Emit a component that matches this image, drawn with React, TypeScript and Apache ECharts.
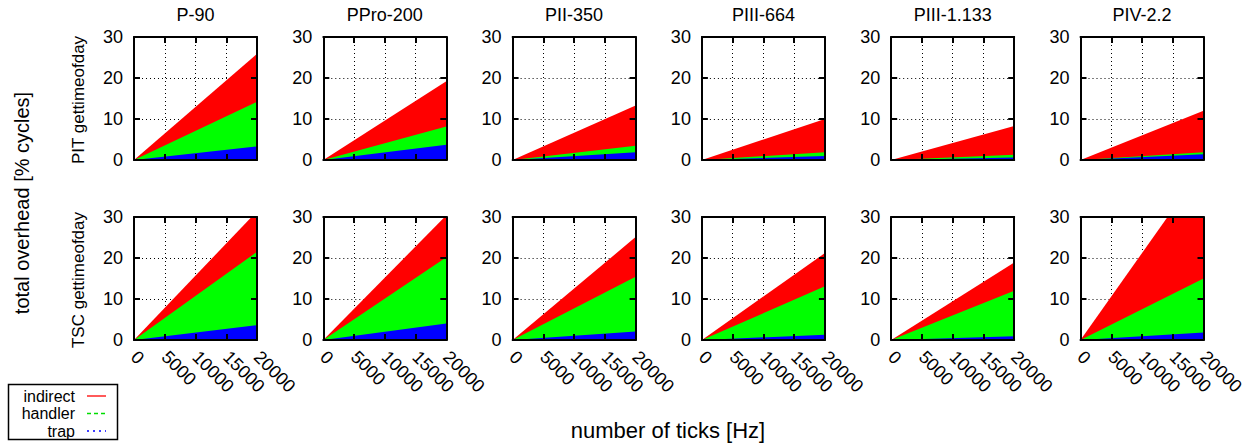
import React, { useEffect, useRef } from "react";
import * as echarts from "echarts";

const titles = ["P-90", "PPro-200", "PII-350", "PIII-664", "PIII-1.133", "PIV-2.2"];
const rowLabels = ["PIT gettimeofday", "TSC gettimeofday"];
const tickRateHz = [0, 20000];
const xTickLabels = [0, 5000, 10000, 15000, 20000];
const yTickLabels = [0, 10, 20, 30];

// overhead [% cycles] at 0 Hz and at 20000 Hz
const pitTrap = [[0, 3.3], [0, 3.7], [0, 1.9], [0, 1.0], [0, 0.6], [0, 1.4]];
const pitHandler = [[0, 10.9], [0, 4.5], [0, 1.6], [0, 0.9], [0, 0.7], [0, 0.5]];
const pitIndirect = [[0, 11.7], [0, 11.0], [0, 9.8], [0, 8.1], [0, 7.0], [0, 10.1]];
const tscTrap = [[0, 3.6], [0, 4.0], [0, 2.1], [0, 1.3], [0, 0.9], [0, 1.8]];
const tscHandler = [[0, 17.9], [0, 16.2], [0, 13.3], [0, 11.8], [0, 11.1], [0, 13.2]];
const tscIndirect = [[0, 9.9], [0, 10.2], [0, 9.7], [0, 8.1], [0, 6.9], [0, 27.4]];

const FONT = "'Liberation Sans', Arial, Helvetica, sans-serif";

export default function App() {
  const ref = useRef<HTMLDivElement>(null);
  useEffect(() => {
    document.body.style.margin = "0";
    const chart = echarts.init(ref.current!, null, { renderer: "svg" });
    const grids: any[] = [];
    const xAxes: any[] = [];
    const yAxes: any[] = [];
    const series: any[] = [];
    const graphics: any[] = [];
    const rows = [
      { trap: pitTrap, handler: pitHandler, indirect: pitIndirect, top: 37 },
      { trap: tscTrap, handler: tscHandler, indirect: tscIndirect, top: 217 },
    ];
    const W = 123;
    const H = 123;
    rows.forEach((row, r) => {
      titles.forEach((t, c) => {
        const gi = grids.length;
        const left = 134 + c * 189.3;
        grids.push({ left, top: row.top, width: W, height: H });
        const xBase = { gridIndex: gi, type: "value", min: 0, max: 20000, interval: 5000 };
        const yBase = { gridIndex: gi, type: "value", min: 0, max: 30, interval: 10 };
        const xi = xAxes.length;
        xAxes.push({
          ...xBase, position: "bottom", z: 0,
          axisLine: { show: false }, axisTick: { show: false },
          axisLabel: {
            show: r === 1, rotate: -45, margin: 14, fontSize: 18, color: "#000", fontFamily: FONT,
            formatter: (v: number) => (xTickLabels.includes(v) ? String(v) : ""),
          },
          splitLine: { show: true, lineStyle: { type: [1, 3], color: "#000", width: 1 } },
        });
        ["bottom", "top"].forEach((p) => {
          xAxes.push({
            ...xBase, position: p, z: 5,
            axisLine: { show: true, onZero: false, lineStyle: { color: "#000", width: 2 } },
            axisTick: { show: true, inside: true, length: 6, lineStyle: { color: "#000", width: 2 } },
            axisLabel: { show: false }, splitLine: { show: false },
          });
        });
        const yi = yAxes.length;
        yAxes.push({
          ...yBase, position: "left", z: 0,
          axisLine: { show: false }, axisTick: { show: false },
          axisLabel: { margin: 11, fontSize: 18, color: "#000", fontFamily: FONT,
            formatter: (v: number) => (yTickLabels.includes(v) ? String(v) : "") },
          splitLine: { show: true, lineStyle: { type: [1, 3], color: "#000", width: 1 } },
        });
        ["left", "right"].forEach((p) => {
          yAxes.push({
            ...yBase, position: p, z: 5,
            axisLine: { show: true, onZero: false, lineStyle: { color: "#000", width: 2 } },
            axisTick: { show: true, inside: true, length: 6, lineStyle: { color: "#000", width: 2 } },
            axisLabel: { show: false }, splitLine: { show: false },
          });
        });
        // cumulative layers, drawn from the top layer down so lower layers cover upper ones
        const trapV = row.trap[c];
        const handV = row.handler[c];
        const indV = row.indirect[c];
        const cumIndirect = tickRateHz.map((_, k) => trapV[k] + handV[k] + indV[k]);
        const cumHandler = tickRateHz.map((_, k) => trapV[k] + handV[k]);
        const cumTrap = tickRateHz.map((_, k) => trapV[k]);
        const layers: [string, number[], string][] = [
          ["indirect", cumIndirect, "#ff0000"],
          ["handler", cumHandler, "#00ff00"],
          ["trap", cumTrap, "#0000ff"],
        ];
        layers.forEach(([name, vals, color], li) => {
          series.push({
            type: "line", name, xAxisIndex: xi, yAxisIndex: yi,
            data: tickRateHz.map((x, k) => [x, vals[k]]),
            showSymbol: false, symbol: "none", clip: true,
            lineStyle: { width: 0, color }, itemStyle: { color },
            areaStyle: { color, opacity: 1, origin: "start" }, z: 2 + li * 0.1,
          });
        });
        if (r === 0) {
          graphics.push({
            type: "text", x: left + W / 2, y: 15,
            style: { text: t, fontSize: 18, fontFamily: FONT, fill: "#000", textAlign: "center", textVerticalAlign: "middle" },
          });
        }
      });
      graphics.push({
        type: "text", x: 78, y: row.top + 63, rotation: Math.PI / 2,
        style: { text: rowLabels[r], fontSize: 17, fontFamily: FONT, fill: "#000", textAlign: "center", textVerticalAlign: "middle" },
      });
    });
    graphics.push({
      type: "text", x: 22, y: 203, rotation: Math.PI / 2,
      style: { text: "total overhead [% cycles]", fontSize: 20, fontFamily: FONT, fill: "#000", textAlign: "center", textVerticalAlign: "middle" },
    });
    graphics.push({
      type: "text", x: 668, y: 430,
      style: { text: "number of ticks [Hz]", fontSize: 22, fontFamily: FONT, fill: "#000", textAlign: "center", textVerticalAlign: "middle" },
    });
    graphics.push({
      type: "rect", shape: { x: 8.5, y: 384.5, width: 109, height: 55 },
      style: { fill: "#fff", stroke: "#000", lineWidth: 1.5 },
    });
    const leg: [string, string, number[] | null][] = [
      ["indirect", "#ff0000", null],
      ["handler", "#00dd00", [4, 3]],
      ["trap", "#0000ff", [2, 4]],
    ];
    leg.forEach(([name, color, dash], i) => {
      const y = 396 + i * 17.5;
      graphics.push({
        type: "text", x: 75, y,
        style: { text: name, fontSize: 16, fontFamily: FONT, fill: "#000", textAlign: "right", textVerticalAlign: "middle" },
      });
      graphics.push({
        type: "line", shape: { x1: 87, y1: y, x2: 106, y2: y },
        style: dash ? { stroke: color, lineWidth: 1.3, lineDash: dash } : { stroke: color, lineWidth: 1.3 },
      });
    });
    chart.setOption({
      animation: false,
      backgroundColor: "#fff",
      textStyle: { fontFamily: FONT },
      grid: grids,
      xAxis: xAxes,
      yAxis: yAxes,
      series,
      graphic: graphics,
    });
    return () => chart.dispose();
  }, []);
  return <div ref={ref} style={{ width: 1252, height: 445 }} />;
}
